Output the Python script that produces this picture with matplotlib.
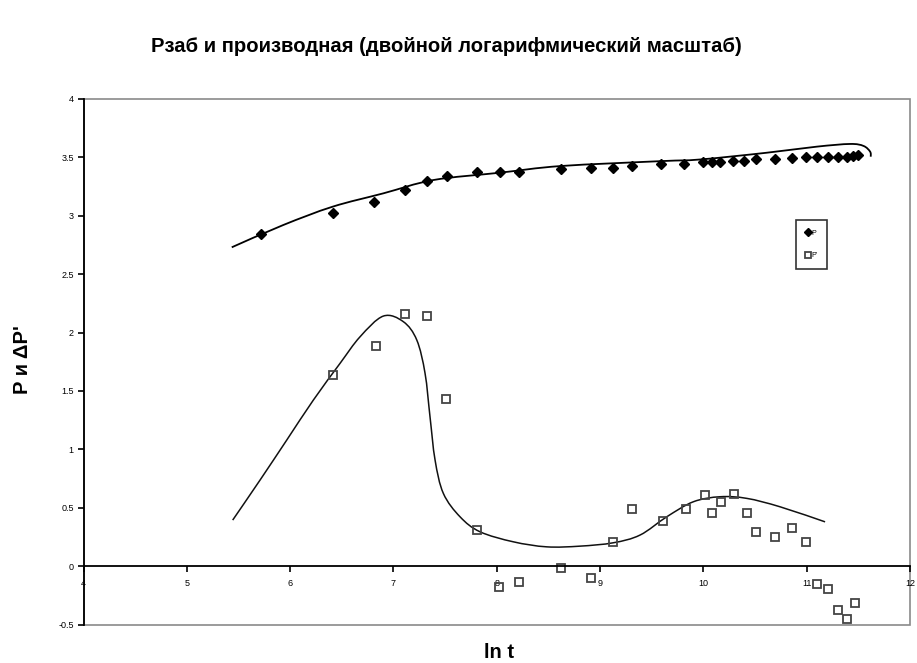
import matplotlib.pyplot as plt
import numpy as np
from matplotlib.path import Path
from matplotlib.patches import PathPatch, Rectangle

# pressure P vs ln t
p_lnt = [5.715, 6.412, 6.812, 7.112, 7.328, 7.516, 7.806, 8.032, 8.216, 8.62,
         8.916, 9.129, 9.313, 9.59, 9.816, 10.0, 10.087, 10.162, 10.29, 10.397,
         10.507, 10.694, 10.856, 10.991, 11.098, 11.21, 11.30, 11.388, 11.452, 11.50]
p_val = [2.841, 3.021, 3.115, 3.218, 3.298, 3.343, 3.377, 3.374, 3.375, 3.398,
         3.412, 3.412, 3.426, 3.443, 3.443, 3.46, 3.46, 3.46, 3.472, 3.472,
         3.489, 3.489, 3.492, 3.506, 3.506, 3.506, 3.506, 3.506, 3.512, 3.518]

# derivative dP' vs ln t
d_lnt = [6.412, 6.829, 7.112, 7.328, 7.509, 7.806, 8.025, 8.216, 8.62, 8.91,
         9.129, 9.313, 9.613, 9.83, 10.016, 10.087, 10.168, 10.297, 10.42, 10.51,
         10.694, 10.86, 10.991, 11.104, 11.21, 11.30, 11.388, 11.468]
d_val = [1.640, 1.884, 2.156, 2.141, 1.428, 0.306, -0.18, -0.134, -0.02, -0.10,
         0.208, 0.486, 0.388, 0.486, 0.606, 0.451, 0.548, 0.617, 0.451, 0.291,
         0.251, 0.325, 0.208, -0.154, -0.194, -0.377, -0.457, -0.314]

# smoothed trend lines (control points)
p_fit_x = [5.435, 5.934, 6.412, 6.902, 7.386, 8.032, 8.62, 9.59, 9.968, 10.614,
           11.098, 11.42, 11.55, 11.614, 11.62]
p_fit_y = [2.730, 2.921, 3.078, 3.192, 3.306, 3.369, 3.426, 3.468, 3.482, 3.540,
           3.592, 3.615, 3.598, 3.549, 3.506]
d_fit_x = [5.444, 5.709, 5.967, 6.225, 6.483, 6.677, 6.902, 7.096, 7.226, 7.306,
           7.354, 7.403, 7.483, 7.645, 7.838, 8.161, 8.484, 8.806, 9.129, 9.387,
           9.645, 9.903, 10.162, 10.42, 10.742, 11.178]
d_fit_y = [0.394, 0.737, 1.079, 1.422, 1.736, 1.964, 2.141, 2.093, 1.936, 1.651,
           1.279, 0.908, 0.623, 0.422, 0.294, 0.208, 0.165, 0.171, 0.200, 0.266,
           0.422, 0.551, 0.594, 0.580, 0.508, 0.379]


def smooth_path(xs, ys):
    # Catmull-Rom through the points, emitted as cubic Bezier segments
    pts = np.column_stack([xs, ys])
    ext = np.vstack([pts[0], pts, pts[-1]])
    verts = [pts[0]]
    codes = [Path.MOVETO]
    for i in range(1, len(ext) - 2):
        p0, p1, p2, p3 = ext[i - 1], ext[i], ext[i + 1], ext[i + 2]
        verts += [p1 + (p2 - p0) / 6, p2 - (p3 - p1) / 6, p2]
        codes += [Path.CURVE4] * 3
    return Path(verts, codes)


plt.rcParams['font.family'] = ['Liberation Sans', 'DejaVu Sans']
fig = plt.figure(figsize=(9.17, 6.63), dpi=100)
ax = fig.add_axes([83.5 / 917, 1 - 624.5 / 663, (910 - 83.5) / 917, (624.5 - 99) / 663])

ax.set_xlim(4, 12)
ax.set_ylim(-0.5, 4)

for s in ["top", "right"]:
    ax.spines[s].set_visible(False)
ax.spines["bottom"].set_position(("data", 0))
ax.spines["bottom"].set_color("black")
ax.spines["bottom"].set_linewidth(1.3)
ax.spines["left"].set_linewidth(1.3)
ax.add_patch(Rectangle((0, 0), 1, 1, transform=ax.transAxes, fill=False,
                       ec="#8a8a8a", lw=1.2, clip_on=False, zorder=0))

ax.set_xticks(range(4, 13))
ax.set_yticks([-0.5, 0, 0.5, 1, 1.5, 2, 2.5, 3, 3.5, 4])
ax.set_yticklabels(["-0.5", "0", "0.5", "1", "1.5", "2", "2.5", "3", "3.5", "4"])
ax.tick_params(axis="both", direction="out", length=4, width=1.2, labelsize=6.5, pad=3)
ax.tick_params(axis="x", pad=5)

ax.add_patch(PathPatch(smooth_path(p_fit_x, p_fit_y), fill=False, ec="black", lw=1.3))
ax.add_patch(PathPatch(smooth_path(d_fit_x, d_fit_y), fill=False, ec="#111111", lw=1.1))

ax.plot(p_lnt, p_val, "D", color="black", ms=5.2, label="P", clip_on=False)
ax.plot(d_lnt, d_val, "s", mfc="none", mec="#444444", mew=1.3, ms=5.2, label="P'", clip_on=False)

fig.text(446 / 917, 1 - 46 / 663, "Рзаб и производная (двойной логарифмический масштаб)",
         ha="center", va="center", fontsize=14.6, fontweight="bold")
fig.text(22 / 917, 1 - 360 / 663, "P и ΔP'", rotation=90, ha="center", va="center",
         fontsize=14.5, fontweight="bold")
fig.text(499 / 917, 1 - 652 / 663, "ln t", ha="center", va="center",
         fontsize=14.5, fontweight="bold")

leg = ax.legend(loc="upper left", bbox_to_anchor=(796 / 917, 1 - 220 / 663),
                bbox_transform=fig.transFigure, fontsize=5, fancybox=False,
                frameon=True, borderaxespad=0, handlelength=0.6, handletextpad=0.2,
                labelspacing=2.2, borderpad=1.4, markerscale=0.7)
leg.get_frame().set_edgecolor("black")
leg.get_frame().set_linewidth(1.2)

plt.savefig("out.png", dpi=100)
plt.close()
